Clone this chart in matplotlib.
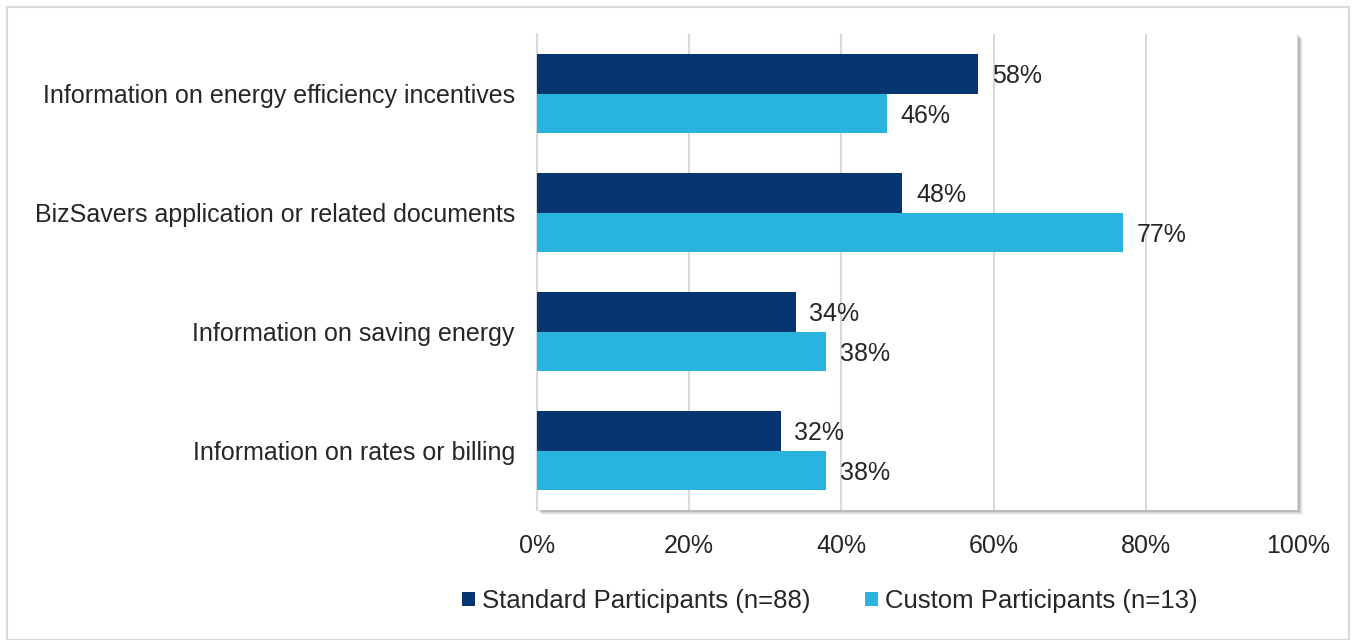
import matplotlib
matplotlib.use("Agg")
import matplotlib.pyplot as plt
import matplotlib.patches as patches
import numpy as np

categories = [
    "Information on energy efficiency incentives",
    "BizSavers application or related documents",
    "Information on saving energy",
    "Information on rates or billing",
]
standard = [58, 48, 34, 32]
custom = [46, 77, 38, 38]
series_names = ["Standard Participants (n=88)", "Custom Participants (n=13)"]
xticks = [0, 20, 40, 60, 80, 100]

dark = "#06356F"
light = "#29B3DF"
text_col = "#262626"

plt.rcParams["font.family"] = ["Liberation Sans", "DejaVu Sans"]
fs = 18

W, H = 1352, 640
fig = plt.figure(figsize=(W / 100, H / 100), dpi=100)

# outer chart border
fig.patches.append(patches.Rectangle((7 / W, 0), (1349 - 7) / W, (H - 7) / H,
                                     transform=fig.transFigure, fill=False,
                                     edgecolor="#D9D9D9", linewidth=1.5))

left, right, top, bottom = 537, 1298, 34, 510
ax = fig.add_axes([left / W, 1 - bottom / H, (right - left) / W, (bottom - top) / H])

# soft shadow of the plot area (right and bottom)
for k, a in zip([5, 4, 3, 2], [0.08, 0.12, 0.18, 0.28]):
    fig.patches.append(patches.Rectangle(((left + k) / W, 1 - (bottom + k) / H),
                                         (right - left) / W, (bottom - top) / H,
                                         transform=fig.transFigure, facecolor="#7F7F7F",
                                         edgecolor="none", alpha=a, zorder=0))
ax.set_facecolor("white")
ax.set_zorder(2)

y = np.arange(len(categories))
h = 0.335
ax.barh(y - h / 2, standard, height=h, color=dark, label=series_names[0], zorder=3)
ax.barh(y + h / 2, custom, height=h, color=light, label=series_names[1], zorder=3)

for yi, v in zip(y - h / 2, standard):
    ax.text(v + 1.8, yi + 0.02, f"{v}%", va="center", ha="left", fontsize=fs, color=text_col)
for yi, v in zip(y + h / 2, custom):
    ax.text(v + 1.8, yi + 0.02, f"{v}%", va="center", ha="left", fontsize=fs, color=text_col)

ax.set_xlim(0, 100)
ax.set_ylim(len(categories) - 0.5, -0.5)
ax.set_xticks(xticks)
ax.set_xticklabels([f"{t}%" for t in xticks])
ax.set_yticks(y)
ax.set_yticklabels(categories)
ax.tick_params(axis="x", length=0, pad=17, labelsize=fs, labelcolor=text_col)
ax.tick_params(axis="y", length=0, pad=16, labelsize=fs, labelcolor=text_col)
ax.grid(axis="x", color="#D9D9D9", linewidth=1.5, zorder=0)
for s in ["top", "right", "bottom"]:
    ax.spines[s].set_visible(False)
ax.spines["left"].set_color("#D9D9D9")
ax.spines["left"].set_linewidth(1.5)

leg = fig.legend(loc="center", bbox_to_anchor=(830 / W, 1 - 601 / H), ncol=2,
                 frameon=False, fontsize=18.5, handlelength=0.5, handleheight=0.5,
                 handletextpad=0.3, columnspacing=2.1, labelcolor=text_col)

fig.savefig("out.png", dpi=100, facecolor="white")
